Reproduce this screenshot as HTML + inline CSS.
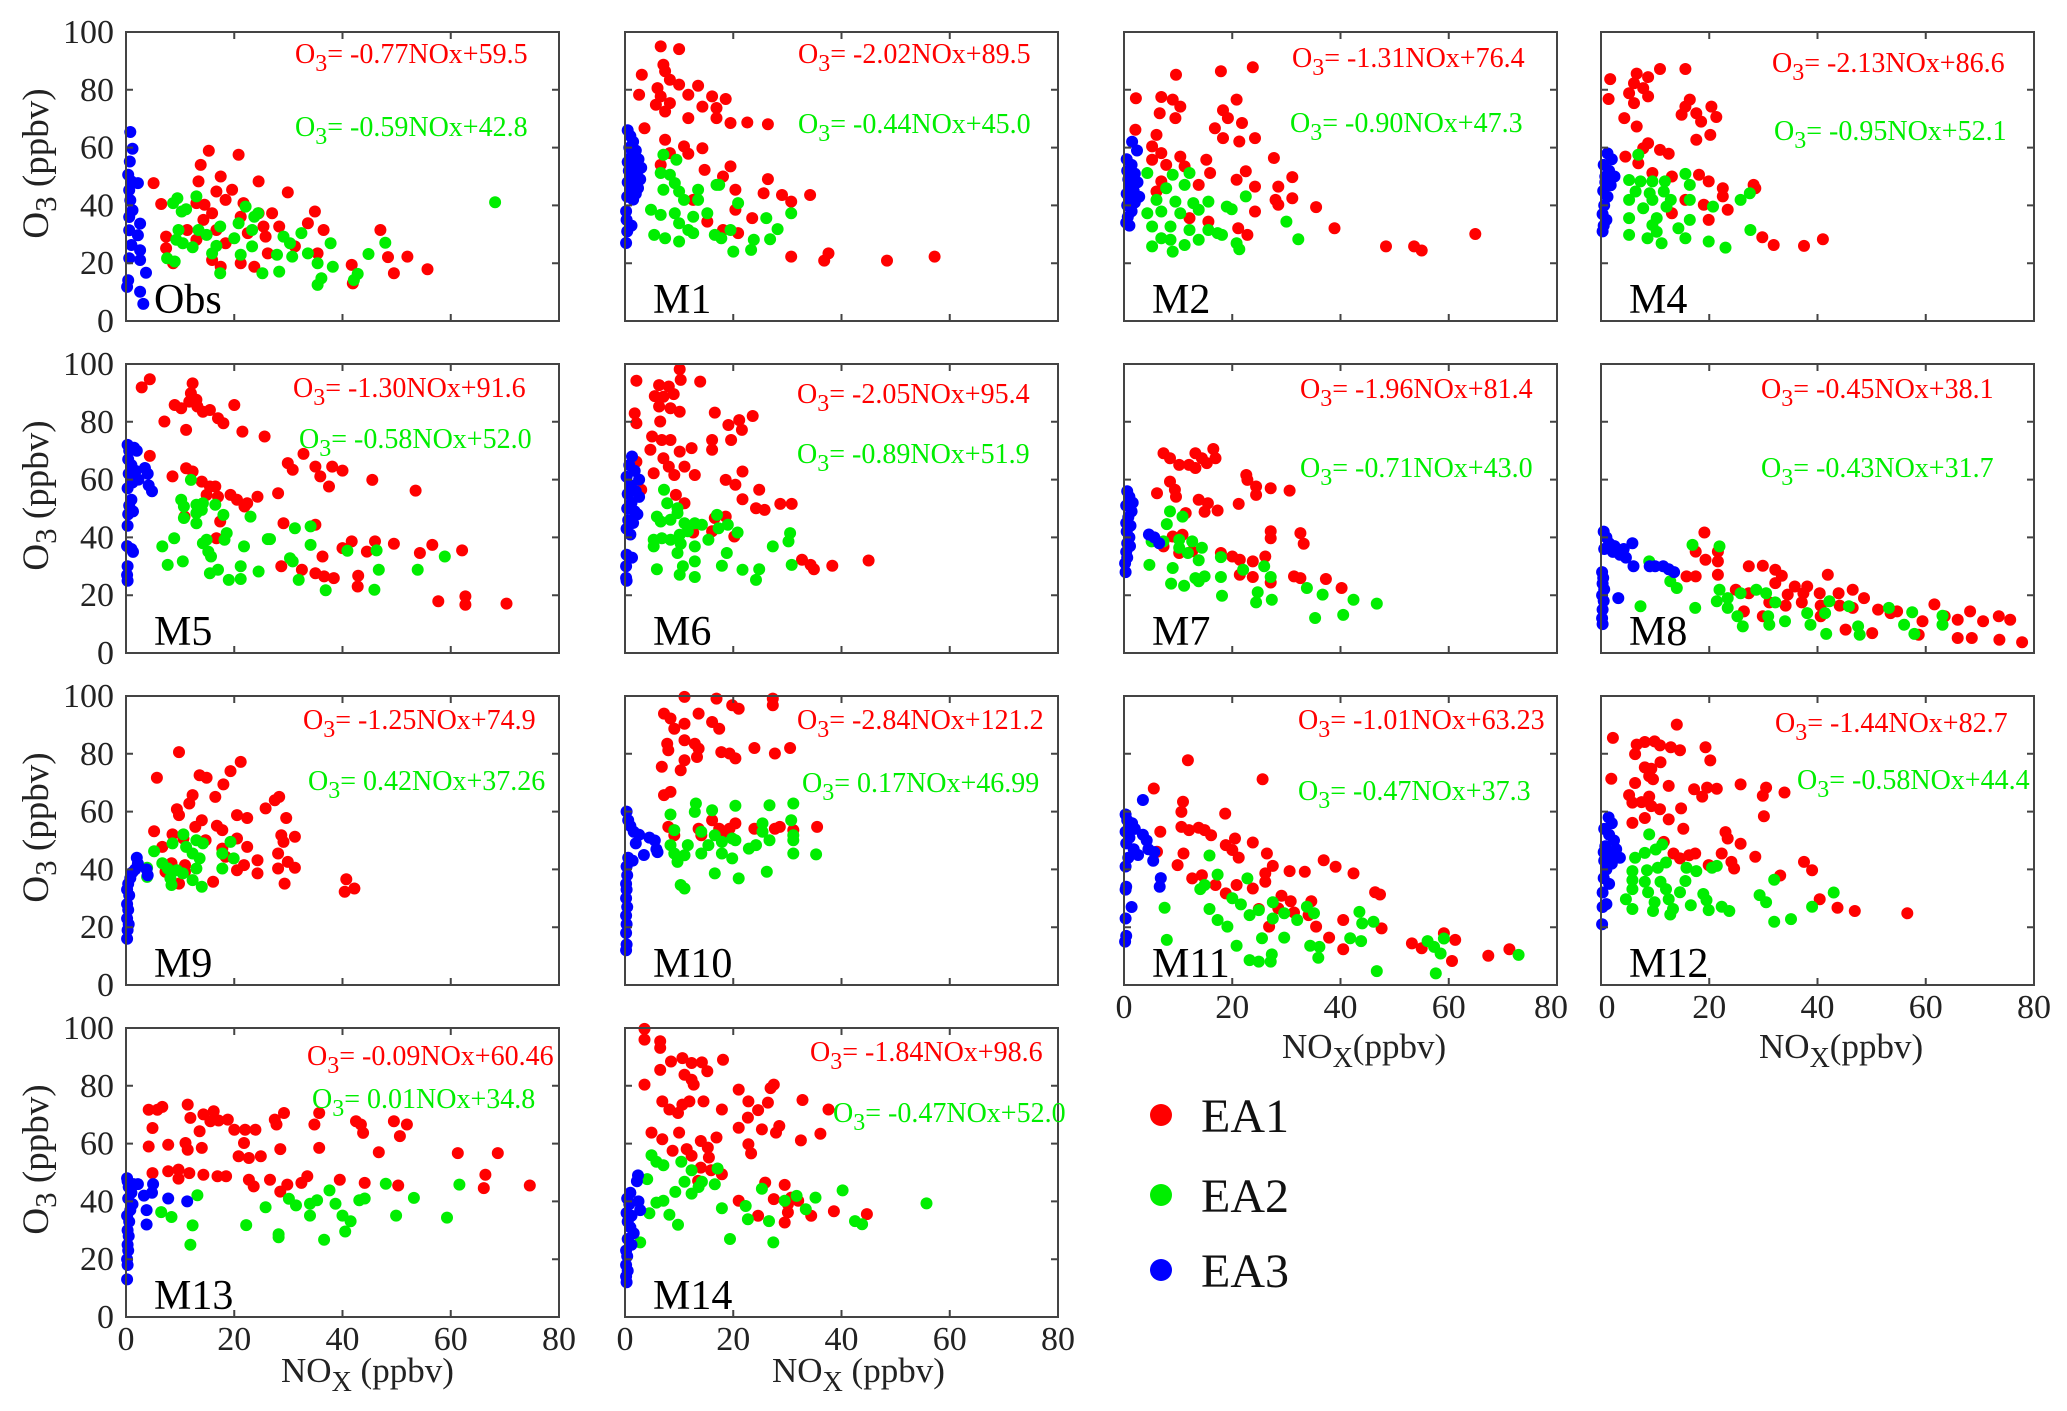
<!DOCTYPE html>
<html><head><meta charset="utf-8"><style>
html,body{margin:0;padding:0;background:#fff;}
svg{display:block;font-family:"Liberation Serif","Times New Roman",serif;}
svg text{font-family:"Liberation Serif","Times New Roman",serif;}
</style></head><body>
<svg id="fig" width="2067" height="1411" viewBox="0 0 2067 1411" xmlns="http://www.w3.org/2000/svg" font-family="Liberation Serif, serif">
<rect width="2067" height="1411" fill="#fff"/>
<g id="legend">
 <g><circle cx="1161" cy="1115" r="11" fill="#ff0000"/><text x="1201" y="1132" font-size="48" fill="#111">EA1</text></g>
 <g><circle cx="1161" cy="1195" r="11" fill="#00ee00"/><text x="1201" y="1212" font-size="48" fill="#111">EA2</text></g>
 <g><circle cx="1161" cy="1270" r="11" fill="#0000ff"/><text x="1201" y="1287" font-size="48" fill="#111">EA3</text></g>
</g>
</svg>
<script>
const xTicks=[0,20,40,60,80];
const yTicks=[0,20,40,60,80,100];
const panelNames=["Obs","M1","M2","M4","M5","M6","M7","M8","M9","M10","M11","M12","M13","M14"];
const eqRed=["-0.77NOx+59.5","-2.02NOx+89.5","-1.31NOx+76.4","-2.13NOx+86.6","-1.30NOx+91.6","-2.05NOx+95.4","-1.96NOx+81.4","-0.45NOx+38.1","-1.25NOx+74.9","-2.84NOx+121.2","-1.01NOx+63.23","-1.44NOx+82.7","-0.09NOx+60.46","-1.84NOx+98.6"];
const eqGreen=["-0.59NOx+42.8","-0.44NOx+45.0","-0.90NOx+47.3","-0.95NOx+52.1","-0.58NOx+52.0","-0.89NOx+51.9","-0.71NOx+43.0","-0.43NOx+31.7","0.42NOx+37.26","0.17NOx+46.99","-0.47NOx+37.3","-0.58NOx+44.4","0.01NOx+34.8","-0.47NOx+52.0"];

const Obs_EA1=[[5.1,47.7],[6.5,40.5],[7.4,29.2],[7.4,25.2],[8.7,20],[13.4,48.3],[13.8,54],[15.3,58.9],[13,40.8],[14.5,40.2],[14.3,35],[15.9,37.3],[16.7,44.8],[17.5,50],[19.6,45.4],[18.4,41.9],[16.7,31.5],[18.4,26.9],[15.9,21.1],[17.5,18.8],[20.8,57.5],[21.7,40.8],[21.2,36.1],[22.5,30.4],[21.2,20],[24.5,48.3],[24.5,37.3],[25.4,32.7],[25.8,29.2],[23.7,18.8],[27,37.3],[28.3,32.7],[29.9,44.5],[31.2,25.8],[33.6,33.8],[34.9,37.9],[36.5,31.5],[35.4,23.4],[41.7,19.4],[41.9,13],[47,31.5],[48.4,22.1],[49.5,16.5],[52,22.3],[55.7,17.9],[26.2,23.4],[11.3,31.5],[13,28.1]];
const Obs_EA2=[[8.7,40.8],[9.5,42.5],[10.3,37.9],[11.1,38.7],[9.7,31.5],[9.3,28.1],[10.5,26.9],[12.3,25.5],[7.6,21.7],[9,20.6],[13,43.1],[13.4,31.5],[14.9,29.8],[15.9,23.4],[16.7,26],[17.4,32.7],[17.4,16.5],[20,28.6],[20.8,33.8],[21.2,22.9],[22.1,39.6],[23.3,31.5],[23.7,36.1],[24.4,37.3],[23.3,25.8],[25.2,16.5],[27.9,22.9],[28.3,17.1],[29.1,29.2],[30.7,22.3],[30.3,26.9],[32.4,30.4],[33.6,23.4],[35.4,20],[36.1,14.8],[35.4,12.5],[37.8,26.9],[38.2,18.8],[42.8,16.3],[42.1,14.2],[44.8,23.2],[47.9,27.1],[68.2,41.1]];
const Obs_EA3=[[0.8,65.4],[1.2,59.6],[0.7,55.2],[0.4,50.6],[1,48.3],[2.2,47.7],[0.6,45.3],[0.8,41.8],[1.2,38.3],[0.6,36],[2.6,33.7],[0.6,31.4],[2.2,29.7],[1,26.3],[2.6,24.5],[0.6,21.7],[2.6,21.1],[3.7,16.7],[0.4,14.1],[0.2,11.8],[2.6,10.1],[3.2,5.9]];

const M1_EA1=[[6.6,95],[10,94.1],[3.1,85.2],[7.1,88.7],[7.4,86.4],[8.3,83.5],[6,80.6],[10,81.8],[13.5,81.4],[2.6,78.3],[6.6,77.7],[11.7,78.3],[16.1,77.7],[18.6,76.8],[5.7,74.8],[8.3,75.4],[14.3,74.2],[16.9,73.7],[7.4,72.5],[11.7,70.2],[16.9,70.2],[19.5,68.5],[22.6,68.7],[26.4,68.1],[3.6,66.7],[7.4,62.7],[10.9,60.4],[14.3,59.8],[8.3,58.1],[11.7,57.9],[6.6,54],[14.7,52.3],[19.5,53.5],[18.1,50],[26.4,49.1],[20.4,45.4],[25.6,44.2],[29,43.6],[34.2,43.6],[30.7,41.3],[20.4,38.5],[23.5,35.6],[15.2,34.4],[18.1,31.5],[20.9,30.4],[30.7,22.3],[37.6,23.4],[36.8,20.9],[48.4,20.9],[57.2,22.3],[12.6,41.9]];
const M1_EA2=[[7.1,57.5],[9.5,55.8],[6.6,51.2],[8.3,50.6],[7.1,45.4],[9.2,47.7],[10,44.8],[13.5,45.4],[16.9,47.1],[10.9,41.9],[13.5,41.9],[4.8,38.5],[6.6,36.7],[9.2,37.3],[12.6,36.1],[15.2,37.3],[10,33.8],[11.7,31.5],[5.4,29.8],[7.4,28.6],[10,27.5],[12.6,30.4],[16.6,29.8],[19.5,31.5],[20.9,40.8],[26.1,35.6],[28.2,31.8],[26.8,28.3],[30.7,37.3],[23.8,28.1],[20,24],[23.3,24.6],[17.8,28.6],[17.4,47.1]];
const M1_EA3=[[0.5,66],[1,64],[1.5,62],[0.8,60],[2,59],[1.2,57],[2.5,56],[0.5,55],[1.8,54],[3,53],[0.7,52],[2.2,51],[1.3,50],[2.8,49],[0.5,48],[1.6,47],[2.4,46],[1,45],[2,44],[0.4,43],[1.5,42],[0.2,38],[0.3,35],[1.2,33],[0.4,31],[0.2,27]];

const M2_EA1=[[9.6,85.2],[17.9,86.4],[23.8,87.8],[2.2,77.1],[6.9,77.5],[9,76.6],[10.4,74.2],[6.6,71.9],[9.5,70.2],[20.8,76.6],[18.3,72.9],[19.2,70.2],[21.8,68.5],[16.8,66.7],[2.1,66.2],[18.3,63.3],[24.2,63.3],[21.3,62.1],[6,64.4],[5.2,60.4],[6.9,58.1],[10.4,56.9],[5.2,55.8],[15.2,55.8],[27.7,56.4],[7.8,54],[11.2,53.5],[22.5,51.8],[15.9,51.2],[31.1,49.8],[20.8,48.9],[6.9,48.3],[13.8,47.1],[24.2,46.5],[6,44.8],[28.5,46.5],[31.1,42.5],[28,41.9],[35.5,39.4],[24.2,37.9],[12.1,35.6],[15.6,34.4],[21.1,32.1],[22.8,29.8],[38.9,32.1],[64.9,30.1],[48.4,25.8],[53.6,25.8],[55,24.4],[28.5,40.2]];
const M2_EA2=[[4.3,51.2],[9,50.6],[12.1,51.2],[11.2,47.1],[7.8,45.9],[6,41.9],[9.5,41.3],[12.8,40.8],[15.6,41.3],[19,39.6],[22.5,43.1],[4.3,37.3],[6.9,37.9],[10.4,37.3],[13.8,38.5],[19.9,38.7],[5.2,32.7],[8.6,32.7],[12.1,31.5],[17.3,30.4],[6.9,28.6],[8.6,28.1],[11.2,26.3],[18.1,29.8],[20.8,26.9],[30,34.4],[32.2,28.3],[5.2,25.8],[9,24],[21.3,24.8],[15.6,31.5],[13.8,28.1]];
const M2_EA3=[[1.5,62],[2.4,59],[0.5,56],[1.4,54],[0.6,52],[2,51],[0.8,49],[2.5,48],[1,46],[1.8,45],[0.5,44],[2.8,43],[1.2,42],[2,41],[0.6,40],[1.4,38],[0.7,36],[0.4,34],[1,33]];

const M4_EA1=[[1.7,83.7],[6.6,85.6],[8.7,84.4],[10.9,87.2],[15.6,87.2],[6.1,82.3],[7.8,80.6],[5.2,78.8],[8.7,77.7],[1.4,76.8],[6.1,75.4],[16.4,76.6],[15.6,74.2],[20.4,74.2],[17.6,71.9],[14.9,71.4],[21.3,70.6],[4.3,70.2],[6.6,67.3],[18.5,69],[20.2,64.4],[17.6,62.7],[8.7,61.5],[7.8,59.8],[10.9,59.2],[12.5,57.9],[4.5,56.9],[6.9,54.6],[9.5,51.2],[18.1,50.6],[13.1,50],[19.9,48.3],[28.2,47.1],[22.5,45.9],[22.5,43.1],[28.5,45.9],[15.6,41.9],[19,40.2],[23.4,38.5],[13.1,37.3],[19.9,35],[29.8,29],[31.9,26.3],[37.5,26],[41,28.3]];
const M4_EA2=[[6.9,57.5],[5.2,48.8],[7.3,48.3],[9.5,48.3],[11.8,48.3],[15.6,50.9],[16.4,47.1],[6.4,44.8],[9,44.2],[11.6,44.8],[5.2,41.9],[9.5,41.9],[12.9,41.9],[16.4,41.9],[25.8,41.9],[27.5,44.2],[7.8,39],[12.1,39.6],[20.7,39.6],[5.2,35.6],[10.3,35.6],[16.4,35],[9.5,33.2],[10.3,30.9],[5.2,29.8],[8.6,28.6],[11.2,26.9],[15.6,28.6],[19.9,27.5],[23,25.4],[27.6,31.5],[14.3,32.1]];
const M4_EA3=[[1.2,58],[2,56],[0.5,54],[1.5,52],[2.5,50],[0.8,48],[1.8,47],[0.4,45],[1.2,43],[0.6,40],[0.3,37],[0.5,33],[0.3,31],[1,35],[0.8,50]];

const M5_EA1=[[2.9,91.9],[4.4,94.7],[7.1,80.1],[9,85.8],[10.2,84.7],[11.1,77.2],[12,89.9],[12.3,93.3],[11.7,87],[13,87.6],[13.2,85.3],[14.2,83.5],[15.5,84.1],[17,81.2],[18,79.5],[20,85.8],[21.5,76.6],[25.6,74.9],[4.4,68.2],[8.6,61.1],[11.1,63.9],[12.3,62.8],[14,59.3],[15.5,57.6],[16.5,57.6],[14.9,54.7],[17,54.1],[19.3,54.7],[20.5,53],[22.4,51.8],[24.3,54.1],[21.9,50.7],[28.1,55.3],[29.9,65.7],[30.8,63.4],[32.8,68.9],[35,64.5],[35.9,61.1],[38.1,64.5],[40,63.1],[37.5,57.6],[45.5,59.9],[53.5,56.2],[10.8,47.2],[17.4,45.5],[16.7,39.7],[29.1,44.9],[35,44.4],[28.7,30],[32.5,28.8],[35,27.6],[36.6,26.5],[38.4,25.9],[36.3,33.4],[40,36.3],[41.7,38.6],[44.5,35.1],[46,38.6],[49.5,37.8],[54.3,34.6],[56.6,37.4],[62.1,35.5],[42.9,26.7],[42.8,23],[57.7,17.9],[62.7,19.6],[62.7,16.7],[70.3,17.1]];
const M5_EA2=[[12,59.9],[10.2,53],[10.7,50.7],[13,51.3],[14.2,51.8],[10.7,46.7],[13,48.4],[14,49.5],[16.5,51.3],[18,47.8],[23,47.2],[13,44.9],[14.9,39.2],[14.2,38],[18.6,41.5],[18.2,39.2],[15.2,35.1],[15.7,33.4],[6.7,36.9],[8.9,39.7],[7.7,30.5],[10.5,31.7],[15.5,27.6],[17,28.8],[19,25.3],[21.2,30],[21.2,25.6],[21.8,36.9],[24.5,28.2],[26.2,39.4],[26.6,39.4],[30.3,32.8],[30.8,31.7],[31.2,43.2],[31.9,25.3],[34.1,43.8],[34.1,37.4],[36.9,21.7],[40.9,35.4],[46.3,35.5],[46.7,28.8],[45.9,21.9],[53.9,28.8],[58.9,33.4]];
const M5_EA3=[[0.3,72],[0.6,70],[1.5,71],[2,70],[0.4,67],[1,65],[1.8,63],[0.5,62],[3.5,64],[4,62],[2.3,60],[1.2,59],[0.3,57],[4.2,58],[4.8,56],[1,53],[0.6,51],[1.3,49],[0.4,48],[0.3,44],[0.2,37],[1,36],[1.3,35],[0.3,30],[0.2,27],[0.3,25]];

const M6_EA1=[[2.1,94.2],[10.1,98.2],[10.3,94.5],[13.9,93.9],[6.3,92.7],[8.1,92.2],[5.5,88.9],[7.1,88.7],[9,89.6],[6.3,85.3],[8.4,84.7],[10.1,83.5],[1.8,82.9],[2.1,79.5],[6.5,80.1],[16.6,83.2],[23.6,82],[21.1,80.6],[19.1,78.9],[21.6,77.2],[19.6,73.7],[5,74.9],[6.8,73.7],[8.4,73.7],[4.7,70.3],[10.1,69.7],[12.3,70.9],[16.1,73.7],[16.1,70.3],[7.1,67.4],[2.1,66.2],[5.3,62.2],[8.1,64.5],[11,64.5],[9.1,61.6],[12.9,61.6],[18.6,59.9],[21.7,62.8],[20.4,58.2],[24.8,56.5],[3,56.5],[9.4,54.7],[11,51.8],[21.7,53.2],[24.2,50.1],[25.8,49.5],[28.7,51.6],[30.8,51.6],[16.6,46.7],[18.6,47.2],[12.6,41.7],[16.1,42.1],[20.2,40.3],[32.7,32.3],[34.3,30.5],[34.9,29],[38.3,30.2],[45,32]];
const M6_EA2=[[7.2,56.5],[7.8,51.8],[5.9,47.2],[9.7,50.1],[9.7,48.4],[6.6,45.5],[8.4,46.1],[11,44.9],[12.9,44.9],[14.2,44.4],[17,47.8],[19,44.4],[5.3,39.2],[6.8,39.7],[8.4,39.2],[10.1,40.9],[11.6,42.1],[15.4,39.2],[17.3,43.2],[20.8,41.7],[5.3,36.9],[10.3,37.8],[12.9,36.9],[9.7,34.6],[18.8,34.6],[27.3,36.9],[30.2,38.6],[30.5,41.5],[5.9,29],[10.7,30],[12.9,31.7],[17.9,30.2],[10.1,27.1],[12.9,26.3],[21.7,28.8],[24.2,25.3],[24.8,29],[30.8,30.5]];
const M6_EA3=[[1.3,68],[0.8,65],[1.8,63],[0.3,61],[2.6,60],[1.1,58],[2,56],[0.5,55],[2.6,54],[1.2,52],[0.4,50],[1.8,49],[2.3,48],[0.6,46],[1.5,45],[0.3,43],[1,41],[0.3,34],[1.3,33],[0.2,30],[0.2,26],[0.3,25]];

const M7_EA1=[[7.3,69.1],[8.5,67.4],[10.2,65.1],[12,65.1],[13.2,69.1],[13.2,64],[14.4,67.4],[15.3,65.7],[16.5,70.6],[16.9,67.4],[8.5,59.3],[9.4,56.5],[6.1,55.3],[9.6,54.1],[13.8,53],[15.5,51.8],[17.3,49.3],[14.9,48.9],[11.4,48.4],[21.2,51.6],[22.6,61.6],[22.8,59.9],[24.4,57.6],[24.4,54.7],[27.1,57],[30.6,56.2],[27.1,42.1],[27.1,39.7],[32.6,41.5],[33.2,37.8],[9,40.3],[10.8,40.9],[7.3,36.9],[10.2,34.6],[12.6,35.2],[17.9,34.6],[20,33.4],[21.4,32.3],[23.8,31.7],[26.1,33.4],[21.4,27.1],[23.8,26.3],[27.1,24.4],[31.4,26.5],[32.6,25.9],[37.3,25.6],[40.2,22.5]];
const M7_EA2=[[8.5,49],[10.8,47.2],[7.9,44.6],[5.1,38.6],[7.3,38.6],[10.2,39.2],[12.6,38.6],[10.2,36.4],[11.8,34.6],[14.4,36.4],[13.8,32.1],[17.9,33.2],[4.7,30.5],[9,29.4],[22,28.8],[25.9,30],[27.1,26.3],[13.2,25.9],[14.9,26.5],[17.9,26.3],[13.8,24.8],[8.7,24],[11.1,23.3],[18.1,19.8],[24.7,21],[24.4,17.5],[27.3,18.4],[33.8,22.5],[36.7,20.2],[42.4,18.4],[46.7,17.1],[35.3,12.1],[40.5,13.2]];
const M7_EA3=[[0.6,56],[1,54],[1.6,52],[0.4,51],[1.4,49],[0.8,47],[0.4,45],[1.2,44],[0.5,42],[1,40],[0.6,38],[1.1,37],[0.4,35],[0.6,33],[0.2,31],[0.3,28],[4.6,41],[5.6,40],[6.5,38]];

const M8_EA1=[[19.1,41.7],[17.5,35.1],[19.3,32.3],[21.6,35.1],[21.6,31.7],[17.5,26.5],[21.6,27.1],[15.8,26.5],[27.3,30],[29.9,30.2],[32.2,28.8],[33.4,26.7],[32.2,24.2],[35.8,23],[38.1,23],[41.9,27.1],[24.9,21.9],[27.3,20.7],[34.5,20.2],[37.4,20.7],[40.4,20.7],[43.9,20.7],[46.5,21.9],[48.6,19],[31.1,17.5],[34.1,16.4],[37.1,17.5],[40.6,16.4],[44.1,16.4],[46.5,15.6],[51.2,15],[53.5,13.8],[54.7,14.4],[59.4,11],[61.6,16.8],[63.5,12.7],[65.9,11.5],[68.2,14.4],[70.6,11],[73.5,12.7],[75.6,11.5],[26.4,14.4],[29.9,12.7],[45.2,8.1],[50.1,6.9],[58.7,6.3],[65.9,5.2],[68.5,5.2],[73.6,4.6],[77.8,3.7],[40.6,12.7]];
const M8_EA2=[[16.9,37.4],[21.9,36.9],[8.9,31.7],[12.8,24.8],[14,22.5],[21.9,21.9],[23.4,19],[25.8,20.7],[28.7,21.9],[30.5,20.7],[21.4,17.9],[23.4,15.6],[25.2,12.7],[26.2,9.2],[30.9,12.7],[31.1,9.8],[32.2,17.5],[34,11],[38.1,13.8],[38.7,9.8],[41.4,13.8],[42.2,17.9],[41.6,6.6],[47.5,9.2],[47.8,6.3],[53.2,15.6],[56,9.8],[57.5,14.1],[57.9,6.6],[63.1,12.9],[63.1,9.8],[7.3,16.2],[17.4,15.6],[45.8,16.2]];
const M8_EA3=[[0.5,42],[1,40],[1.5,38],[0.6,36],[2.5,37],[2.2,35],[3.5,34],[4.2,36],[5.8,38],[4.6,33],[6,30],[9,30],[10,30],[11.5,30],[12.5,29],[13.5,28],[0.2,28],[0.4,26],[0.3,24],[0.6,22],[0.2,20],[0.5,18],[0.3,15],[0.2,12],[0.3,10],[3.2,19]];

const M9_EA1=[[5.7,71.7],[9.8,80.6],[13.6,72.6],[14.9,71.7],[18,69.4],[19.3,74],[21.2,77.2],[12.3,65.7],[11.7,62.8],[9.4,60.8],[9.8,58.8],[16.5,65.1],[14,57],[12.8,54.7],[16.8,55.1],[17.8,53.6],[20.5,58.8],[22.4,57.8],[25.8,61.1],[27.5,63.9],[28.3,65.1],[29.6,57.8],[5.2,53.2],[8.6,52.1],[10.6,50.7],[6.7,47.8],[14.7,50.1],[20.5,50.7],[22.4,47.8],[28.7,51.8],[31.2,51.3],[29.1,49.5],[17.8,47.2],[18.4,44.4],[28.1,45.5],[24.3,43.2],[29.9,42.6],[31.2,40.6],[8.4,42.1],[10.9,41.5],[7.3,39.2],[10.9,39.2],[20.5,39.7],[21.8,41.5],[24.3,38.6],[28.1,40.3],[29.3,35.1],[16.1,35.7],[9.8,35.1],[40.7,36.6],[40.4,32.3],[42.2,33.4]];
const M9_EA2=[[5.2,46.3],[10.6,52.1],[8.6,49],[11.1,47.8],[13,50.1],[14.2,49],[12.3,45.5],[13.6,43.8],[17.8,45.5],[19.3,49.5],[19.9,43.8],[3.9,40.6],[6.7,42.1],[7.7,40.3],[9.4,39.7],[10.5,38.6],[13,40.3],[8.2,36.9],[8.4,34.6],[12.3,36.3],[14,34],[17.8,40.3],[3.9,37.4]];
const M9_EA3=[[0.2,16],[0.5,21],[0.2,23],[0.4,26],[0.2,28],[0.6,31],[0.2,33],[0.4,35],[0.8,37],[1.2,39],[1.7,40],[2.2,42],[2,44],[4,38],[3.8,40],[0.3,19]];

const M10_EA1=[[11,99.7],[16.9,99.1],[27.3,99.1],[27.3,96.8],[19.8,96.8],[21,95.6],[7.2,93.9],[8.4,92.2],[13.6,93.9],[16.1,91],[11,90.4],[9.1,88.7],[17.4,88.7],[7.8,83.5],[11,84.7],[12.9,83.5],[13.6,81.8],[8,81.2],[17.8,80.6],[19.3,80.1],[23.9,82],[30.5,82],[27.7,80.1],[13.3,78.9],[11,77.8],[20.4,78.4],[6.8,75.5],[10.3,74.3],[7.2,65.7],[8.4,66.8],[8,54.7],[13.6,54.1],[16.1,57],[17.4,54.1],[19.3,54.1],[20.4,55.9],[23.9,54.1],[27.7,54.1],[28.6,54.7],[31.1,53.6],[35.5,54.7],[9.1,51.8],[14.1,51.8],[18.5,53]];
const M10_EA2=[[8.4,59],[13.1,62.8],[12.9,59.9],[16.1,60.5],[20.4,62],[26.7,62.2],[31.1,62.8],[30.7,57],[9.1,53.6],[14.1,53],[16.6,51.8],[19.8,50.7],[25.4,55.9],[25.4,53],[26.7,50.1],[31.1,50.1],[31.1,51.8],[8.4,48.4],[11.6,48.4],[15.4,48.4],[17.9,49.5],[20.4,50.1],[22.9,47.2],[24.2,48.4],[9.1,45.5],[11,44.9],[14.1,45.5],[17.9,45.5],[19.8,43.8],[31.1,45.5],[35.3,45.2],[9.7,42.6],[16.6,38.6],[21,36.9],[26.2,39.2],[10.3,34.6],[11,33.4]];
const M10_EA3=[[0.3,60],[0.6,57],[1,55],[1.6,53],[2.6,52],[4.5,51],[5.5,50],[2,49],[5.8,47],[6,46],[3.5,45],[0.6,44],[1.4,43],[0.3,41],[0.4,38],[0.2,35],[0.3,33],[0.2,30],[0.4,27],[0.2,24],[0.3,21],[0.2,18],[0.3,14],[0.2,12]];

const M11_EA1=[[11.8,77.8],[25.6,71.2],[5.5,68],[10.9,63.4],[10.6,59.9],[18.7,59.3],[6.7,53],[10.6,54.7],[12,53.6],[13.8,54.4],[14.9,53.6],[16.1,51.8],[18.8,48.4],[20.5,50.7],[23.8,49.3],[20,46.7],[21.2,44.1],[26.4,45.5],[11,45.5],[9.9,41.5],[6.1,46.1],[36.9,43.2],[39.1,40.9],[42.4,38.6],[27.5,41.2],[30.6,39.4],[33.4,39.2],[26.1,38.6],[12.6,36.9],[14.4,38],[16.9,34.6],[18.8,31.7],[20.8,34.6],[23.8,33.4],[26.1,35.7],[29.1,30.9],[30.8,29],[34.6,29],[24.9,26.3],[28.5,26.5],[31.4,25.1],[34.1,24.2],[35.5,20.2],[37.9,16.4],[40.5,22.5],[46.4,32.1],[47.3,31.3],[47.6,19.6],[40.5,12.4],[53.2,14.4],[55,12.7],[59.1,17.9],[61.2,15.6],[60.6,8.3],[67.3,10.1],[71.2,12.4],[26.8,20.2]];
const M11_EA2=[[15.8,44.8],[17.3,38.2],[14.9,34.6],[14.1,33.2],[20,30],[21.6,27.9],[22.8,36.9],[15.8,26.3],[17.3,22.5],[19.1,20.2],[7.5,26.7],[7.9,15.6],[20.8,13.6],[23.2,24.2],[24.9,25.9],[27.5,28.6],[27.5,23],[29.6,24.8],[32,22.5],[33.8,27.1],[35.1,24.8],[25.5,16.2],[29.6,16.4],[34.4,13.6],[36.1,13.2],[35.9,9.4],[27.3,10.6],[27.1,8.1],[24.9,8.1],[23.2,8.6],[41.8,16.2],[43.8,15.2],[43.5,25.3],[44,21.3],[46.1,21.9],[46.7,4.8],[56.1,15.2],[57.3,13.2],[59.1,16.1],[58.5,10.9],[57.6,4],[72.9,10.4]];
const M11_EA3=[[0.3,59],[0.6,57],[1.5,56],[2,54],[0.3,53],[1,51],[0.4,49],[1.8,47],[3.5,52],[4.2,50],[4.5,47],[2.6,45],[5.6,46],[5.4,43],[0.3,41],[6.8,37],[6.6,34],[0.4,34],[0.3,33],[1.4,27],[0.3,23],[0.4,17],[0.2,15],[3.5,64],[0.8,44]];

const M12_EA1=[[14,90.1],[2.2,85.5],[6.6,83.2],[8.1,84.1],[9.9,84.3],[10.9,82.9],[12.9,82.3],[14.6,81.2],[19.3,82.3],[20.2,77.7],[6.3,79.9],[8.1,75.3],[9.3,74.8],[11,77.1],[1.9,71.4],[6.3,69.9],[8.9,72.3],[9.6,71.2],[12.5,68.9],[17.2,67.7],[19.6,68.3],[21.4,67.9],[25.8,69.4],[30.5,68.3],[5.2,65.7],[8.9,65.2],[5.8,63.1],[7.5,63.3],[9.3,61.9],[10.9,60.8],[12.5,57.3],[14.8,61.1],[18.7,65.2],[29.9,65.5],[30.1,58.4],[33.9,66.6],[5.8,56.1],[8.1,57.8],[15.2,54.1],[23,52.9],[23.4,50.7],[11.6,49.5],[13.4,45.5],[14.6,43.8],[16.3,44.9],[17.4,45.5],[19.9,41.5],[22.3,45.5],[24.1,42.6],[25.8,48.9],[28.5,44.4],[24.6,40.3],[33.1,37.9],[37.5,42.6],[39,39.7],[40.4,29.7],[43.7,26.7],[46.9,25.6],[56.6,24.8]];
const M12_EA2=[[8.9,52.1],[6.3,44],[8.1,45.7],[10.1,46.9],[11.3,48.6],[5.8,39.4],[8.5,39.7],[10.5,40.6],[12,42.4],[15.8,40.6],[17.6,39.4],[20.5,40.6],[21.4,41.2],[5.8,36.3],[8.1,35.7],[11,35.7],[15.6,36],[5.8,33.2],[8.7,32.1],[12,33.2],[14.6,32.1],[18.9,31.5],[4.6,29.7],[9.9,28.6],[12.5,29.7],[13.3,26.3],[16.6,27.6],[19.5,29.3],[19.9,25.9],[22.3,27.1],[23.7,25.6],[5.8,26.3],[9.6,25.6],[12.8,24.4],[29.3,31.1],[30.5,28.6],[32,36.4],[39,27.1],[43,32],[32,21.9],[35.1,22.8]];
const M12_EA3=[[1.4,58],[2,56],[0.6,54],[1.5,52],[2.4,50],[0.8,48],[2.8,47],[0.5,46],[1.8,45],[3.5,44],[0.6,43],[2,42],[1,40],[0.5,37],[1.5,35],[0.3,32],[1,28],[0.3,27],[0.2,21]];

const M13_EA1=[[4.2,71.7],[5.8,71.7],[6.7,72.7],[4.9,65.4],[11.4,73.5],[11.9,68.9],[13.6,64.3],[14.3,70.1],[16.2,71.2],[15.6,67.7],[17.1,68],[18.8,68.3],[20,64.8],[22,64.8],[23.9,64.8],[27.5,68.3],[29.2,70.6],[27.8,66.6],[35.7,70.6],[34.8,66.6],[42.5,67.7],[43.4,66.6],[43.8,63.7],[49.5,67.7],[51.9,66.6],[50.6,62.6],[4.2,59],[7.8,59.6],[11,60.2],[11.4,57.9],[14,58.5],[21.8,60.2],[20.8,55.6],[22.7,55],[24.9,55.6],[28.5,58.1],[35.7,58.5],[46.7,57],[61.3,56.7],[68.7,56.7],[4.9,49.8],[7.8,50.4],[9.7,51],[11.7,49.8],[14.3,49.2],[16.9,48.7],[18.5,48.7],[22.7,47.5],[23.6,45.2],[26.6,47.5],[29.8,45.8],[33.5,48.7],[32.4,46.4],[39.5,47.5],[44.1,46.4],[50.3,45.5],[66.4,49.2],[66.1,44.6],[74.6,45.5],[9.7,47.9],[28.5,43.4]];
const M13_EA2=[[13.2,42.1],[6.5,36.3],[8.4,34.6],[12.3,31.7],[11.9,25],[22.2,31.8],[25.8,38],[28.2,28.6],[28.2,27.6],[30.1,40.9],[31.4,38.6],[34,39.2],[34,35.1],[35.3,40.4],[36.6,26.7],[37.6,43.8],[38.7,39.2],[40,35.1],[40.5,29.6],[41.5,33.1],[43.1,40.4],[44.1,41],[48,46.1],[49.9,35.1],[53.2,41.2],[59.3,34.4],[61.6,45.8]];
const M13_EA3=[[0.2,13],[0.3,18],[0.2,20],[0.4,23],[0.3,25],[0.5,28],[0.3,30],[0.6,33],[0.2,35],[0.8,37],[1.2,39],[0.4,41],[1,43],[0.5,45],[0.3,47],[1.4,46],[2.2,46],[3.3,42],[3.8,37],[3.8,32],[5,46],[4.8,43],[7.8,41],[11.3,40],[0.2,48]];

const M14_EA1=[[3.6,99.7],[3.6,96],[6.5,95.4],[6.5,93.1],[10.6,89.6],[12.3,87.9],[14.2,88.1],[18.1,89],[8.5,88.4],[6.5,85.5],[15.2,85],[11,83.8],[12.3,82.1],[12.7,80.4],[3.6,80.4],[21,78.7],[27.5,80.4],[26.9,79.2],[32.8,75.1],[22.8,74.6],[26.4,74.2],[24.6,71.6],[37.6,71.8],[6.9,74.6],[8.2,71.8],[9.8,70.6],[10.6,73.5],[11.9,74.6],[14.5,74.6],[17.9,71.8],[22.7,69],[21,65.5],[25.3,64.9],[28.5,66.1],[27.9,63.8],[32.5,61.1],[36.1,63.4],[4.9,63.8],[10,63.8],[6.9,61.5],[14,60.9],[16.9,62.1],[15.3,58.6],[22.8,59.8],[8.8,57.5],[11.4,58.1],[12.3,55.8],[15.5,55.2],[23.3,56.6],[14,51.7],[15.9,50.8],[17.9,49.4],[13.5,47.1],[25.9,46.5],[29.5,45.7],[21,40.2],[24.6,35],[27.5,40.8],[30.1,39],[30.7,41.3],[32,40.2],[30.1,36.2],[34.4,35],[29.5,32.7],[38.6,36.6],[44.7,35.6]];
const M14_EA2=[[4.9,56],[5.8,53.7],[7.1,52.5],[10.4,53.7],[12.3,50.8],[17.1,51.4],[4.1,47.7],[11,46.8],[9.3,43.3],[12.3,42.7],[13.6,45],[14.2,46.8],[16.6,45.9],[5.8,39.6],[7.1,40.2],[4.5,35.9],[8.2,35.4],[9.8,31.9],[17.9,37.6],[22.3,38.4],[22.7,33.8],[25.3,44.4],[26.6,33.2],[29.5,40.2],[31.7,41.9],[33.4,37.3],[35.2,41.3],[40.2,43.8],[42.5,33.2],[43.8,32.1],[55.7,39.3],[2.8,25.8],[19.4,27],[27.4,25.8]];
const M14_EA3=[[2.4,49],[2.2,47],[1,43],[0.4,41],[2.5,40],[2.8,37],[0.8,39],[0.3,36],[1.2,35],[0.5,33],[1,31],[1.6,29],[0.5,27],[1.2,25],[0.2,23],[0.4,21],[0.2,18],[0.5,16],[0.2,14],[0.3,12]];

const seriesEA1=[Obs_EA1,M1_EA1,M2_EA1,M4_EA1,M5_EA1,M6_EA1,M7_EA1,M8_EA1,M9_EA1,M10_EA1,M11_EA1,M12_EA1,M13_EA1,M14_EA1];
const seriesEA2=[Obs_EA2,M1_EA2,M2_EA2,M4_EA2,M5_EA2,M6_EA2,M7_EA2,M8_EA2,M9_EA2,M10_EA2,M11_EA2,M12_EA2,M13_EA2,M14_EA2];
const seriesEA3=[Obs_EA3,M1_EA3,M2_EA3,M4_EA3,M5_EA3,M6_EA3,M7_EA3,M8_EA3,M9_EA3,M10_EA3,M11_EA3,M12_EA3,M13_EA3,M14_EA3];

// layout (pixels, not data)
const COLX=[126,625,1124,1601], ROWY=[32,364,696,1028], PW=433, PH=289;
const eqPos=[[169,31,169,104],[173,31,173,101],[168,35,166,100],[171,40,173,108],[167,33,173,84],[172,39,172,99],[176,34,176,113],[160,34,160,113],[177,33,182,94],[172,33,177,96],[174,33,174,104],[174,36,196,93],[181,37,186,80],[185,33,208,94]];
const NS="http://www.w3.org/2000/svg";
const svg=document.getElementById('fig');
function mk(tag,attrs,parent){const e=document.createElementNS(NS,tag);for(const k in attrs)e.setAttribute(k,attrs[k]);(parent||svg).appendChild(e);return e;}
const colors=["#ff0000","#00ee00","#0000ff"];
const serNames=["ea1","ea2","ea3"];

panelNames.forEach((name,i)=>{
  const col=i<12?i%4:i-12, row=i<12?Math.floor(i/4):3;
  const L=COLX[col], T=ROWY[row], B=T+PH, R=L+PW;
  const xs=v=>L+v/80*PW, ys=v=>B-v/100*PH;
  const g=mk('g',{});
  
  
  [seriesEA1[i],seriesEA2[i],seriesEA3[i]].forEach((arr,s)=>{
    const sg=mk('g',{fill:colors[s]},g);
    
    
    arr.forEach(p=>{
      const c=mk('circle',{cx:xs(p[0]).toFixed(1),cy:ys(p[1]).toFixed(1),r:6},sg);
      
      
    });
  });
  const fr=mk('rect',{x:L,y:T,width:PW,height:PH,fill:'none',stroke:'#444','stroke-width':2},g);
  
  
  let d='';
  xTicks.forEach(t=>{const x=xs(t);d+=`M${x},${B}v-7M${x},${T}v7`;});
  yTicks.forEach(t=>{const y=ys(t);d+=`M${L},${y}h7M${R},${y}h-7`;});
  const tk=mk('path',{d:d,stroke:'#444','stroke-width':2,fill:'none'},g);
  
  
  if(col===0){
    yTicks.forEach(t=>{const tl=mk('text',{x:L-12,y:ys(t)+11,'font-size':34,'text-anchor':'end',fill:'#222'},g);tl.textContent=t;
      
      });
    const cy=T+PH/2-13;
    const yt=mk('text',{x:0,y:0,'font-size':37,'text-anchor':'middle',fill:'#222',transform:`translate(48,${cy}) rotate(-90)`},g);
    
    
    yt.innerHTML='O<tspan font-size="31" dy="8">3</tspan><tspan dy="-8"> (ppbv)</tspan>';
  }
  if(row===3 || (row===2 && col>=2)){
    xTicks.forEach(t=>{
      let xx=xs(t);
      if(row===2 && col===2 && t===80) xx-=6;
      if(row===2 && col===3 && t===0) xx+=6;
      const tl=mk('text',{x:xx,y:B+33,'font-size':34,'text-anchor':'middle',fill:'#222'},g);tl.textContent=t;
      
      });
    const xt=mk('text',{x:L+(row===3?(col===0?155:147):158),y:B+(row===3?65:73),'font-size':35,fill:'#222'},g);
    
    
    xt.innerHTML='NO<tspan font-size="28" dy="9">X</tspan><tspan dy="-9">'+(row===3?' (ppbv)':'(ppbv)')+'</tspan>';
  }
  const pl=mk('text',{x:L+28,y:B-8,'font-size':42,fill:'#000'},g);
  pl.textContent=name;
  
  
  const ep=eqPos[i];
  [[eqRed[i],ep[0],ep[1],'#ff0000','equation-ea1'],[eqGreen[i],ep[2],ep[3],'#00ee00','equation-ea2']].forEach(q=>{
    const et=mk('text',{x:L+q[1],y:T+q[2],'font-size':28,fill:q[3]},g);
    
    
    et.innerHTML='O<tspan font-size="24" dy="8">3</tspan><tspan dy="-8">= '+q[0]+'</tspan>';
  });
});
</script>
</body></html>
